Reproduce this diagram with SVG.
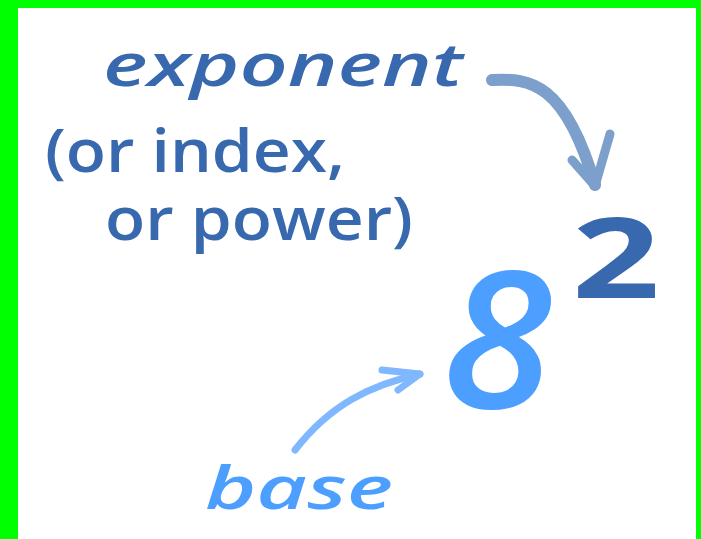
<svg xmlns="http://www.w3.org/2000/svg" width="701" height="539" viewBox="0 0 701 539">
<defs>
<style>
.dark{fill:#3868ad;font-family:"Open Sans","Noto Sans",sans-serif;}
.light{fill:#4d9fff;font-family:"Open Sans","Noto Sans",sans-serif;}
.lbl{font-size:60px;font-weight:600;}
.it{font-style:italic;}
.conn{fill:none;stroke-linecap:round;stroke-linejoin:round;}
</style>
</defs>
<rect x="0" y="0" width="701" height="539" fill="#00ff00"/>
<rect x="18" y="8" width="678" height="531" fill="#ffffff"/>
<g id="connectors">
<path class="conn" d="M492,80 C530,78 565,82 595,185" stroke="#7d9fcc" stroke-width="12"/>
<path class="conn" d="M572,160 L595,186 L610,134" stroke="#7d9fcc" stroke-width="9"/>
<path class="conn" d="M295,450 C330,405 370,385 420,374" stroke="#80b8ff" stroke-width="7"/>
<path class="conn" d="M382,370 L420,374 L398,390" stroke="#80b8ff" stroke-width="7"/>
</g>
<g id="exponent-label">
<text class="dark lbl it" x="103" y="86" textLength="360" lengthAdjust="spacingAndGlyphs">exponent</text>
<text class="dark lbl" x="45" y="172" textLength="300" lengthAdjust="spacingAndGlyphs">(or index,</text>
<text class="dark lbl" x="105" y="240" textLength="308" lengthAdjust="spacingAndGlyphs">or power)</text>
</g>
<g id="base-label">
<text class="light lbl it" x="205" y="509" textLength="188" lengthAdjust="spacingAndGlyphs">base</text>
</g>
<g id="base-digit">
<text class="light" x="442" y="408" font-size="190" font-weight="600" font-style="italic" textLength="110" lengthAdjust="spacingAndGlyphs">8</text>
</g>
<g id="exponent-digit">
<text class="dark" x="572" y="298" font-size="112" font-weight="bold" textLength="88" lengthAdjust="spacingAndGlyphs">2</text>
</g>
</svg>
